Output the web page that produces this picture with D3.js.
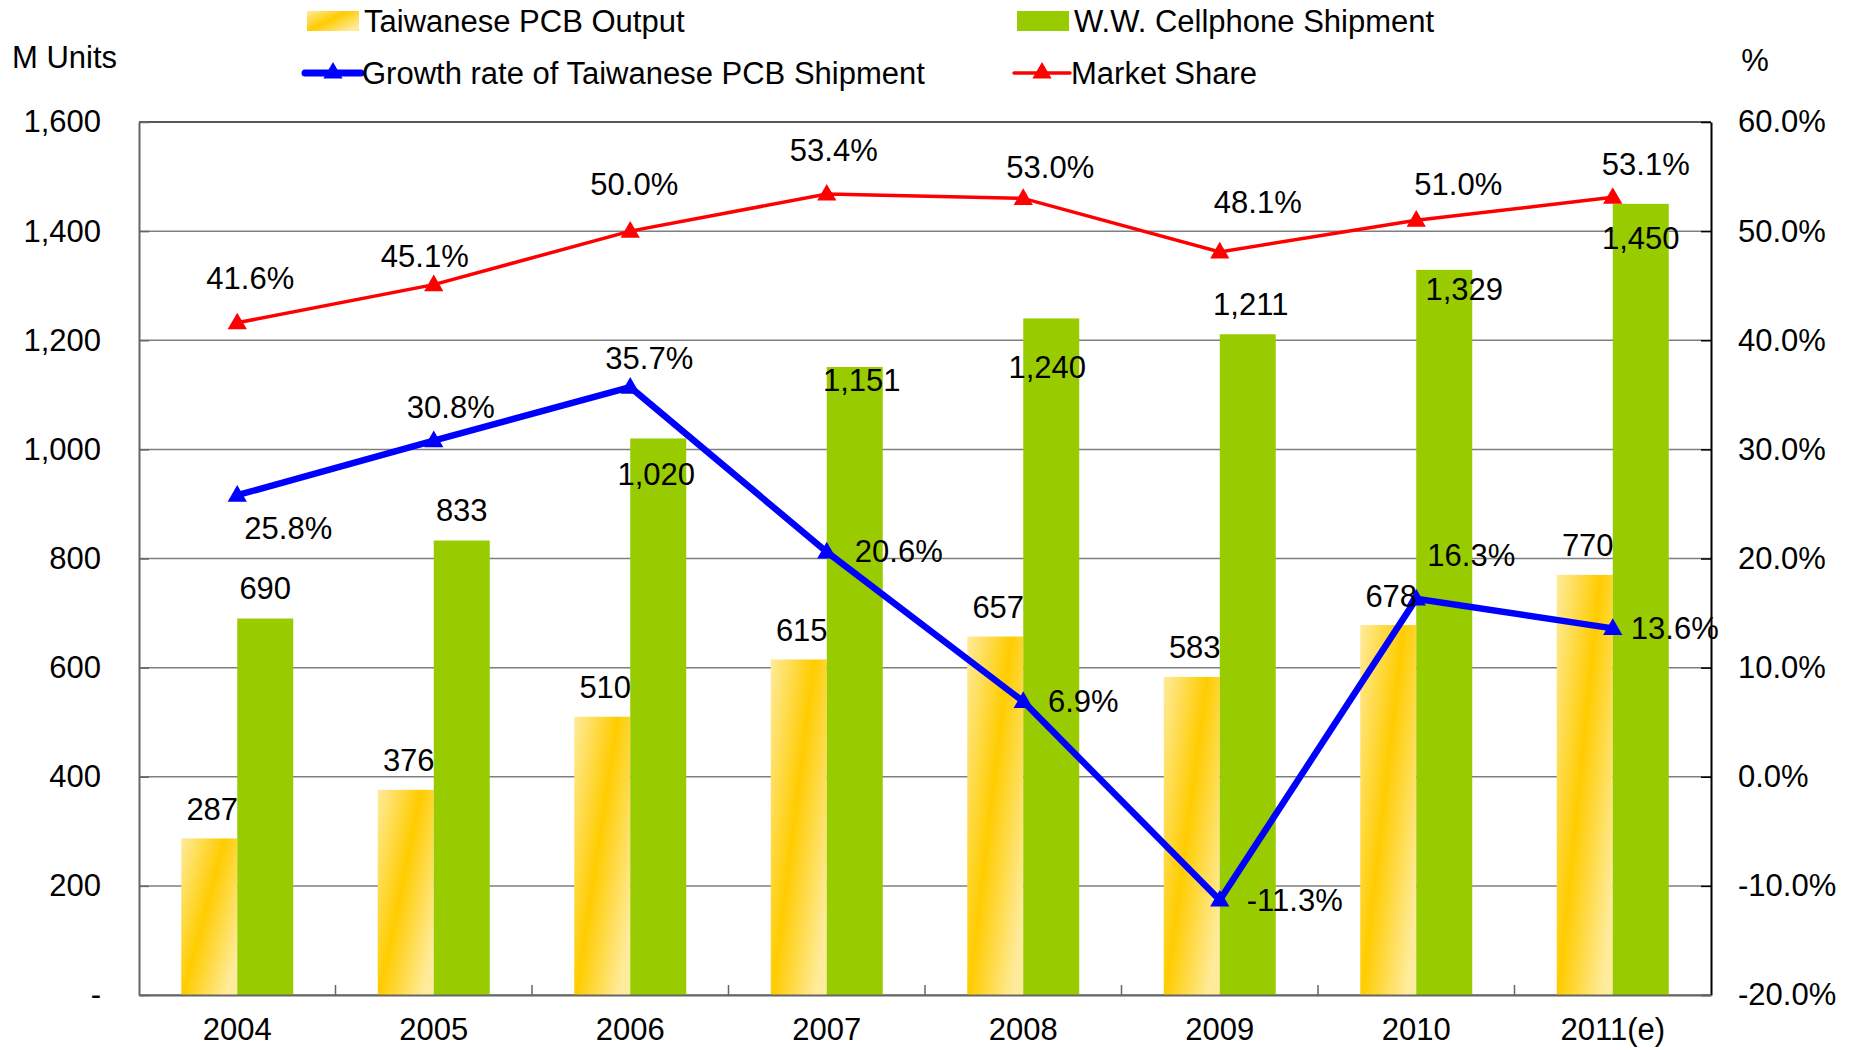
<!DOCTYPE html>
<html>
<head>
<meta charset="utf-8">
<script src="https://cdn.jsdelivr.net/npm/d3@7"></script>
<style>
  body { margin: 0; background: #fff; }
  text { font-family: "Liberation Sans", Arial, sans-serif; fill: #000; }
</style>
</head>
<body>
<div id="chart"></div>
<script>
// data
const years = ['2004', '2005', '2006', '2007', '2008', '2009', '2010', '2011(e)']
const pcbOutput = [287, 376, 510, 615, 657, 583, 678, 770]
const cellShipment = [690, 833, 1020, 1151, 1240, 1211, 1329, 1450]
const growthRate = [25.8, 30.8, 35.7, 20.6, 6.9, -11.3, 16.3, 13.6]
const marketShare = [41.6, 45.1, 50.0, 53.4, 53.0, 48.1, 51.0, 53.1]
const leftTicks = [0, 200, 400, 600, 800, 1000, 1200, 1400, 1600]
const rightTicks = [-20, -10, 0, 10, 20, 30, 40, 50, 60]

// label nudges (px), as they sit in the original
const cellLabelDx = [0, 0, -2, 7, -4, 3, 20, 0]
const cellLabelDy = [-30, -30, 36, 14, 49, -30, 20, 35]
const growthDx = [51, 17, 19, 72, 60, 75, 55, 62]
const growthDy = [33, -33, -29, 0, 0, 0, -43, 0]
const shareDx = [13, -9, 4, 7, 27, 38, 42, 33]
const shareDy = [-44, -28, -47, -44, -31, -49, -36, -33]

const W = 1854, H = 1050
const margin = { top: 122, right: 143, bottom: 55, left: 139 }
const width = W - margin.left - margin.right
const height = H - margin.top - margin.bottom
const fontSize = 31

const svg = d3.select('#chart').append('svg')
  .attr('width', W)
  .attr('height', H)

const defs = svg.append('defs')
const grad = defs.append('linearGradient')
  .attr('id', 'gold')
  .attr('x1', 0).attr('y1', 0).attr('x2', 1).attr('y2', 0.75)
grad.append('stop').attr('offset', '0%').attr('stop-color', '#ffeb9c')
grad.append('stop').attr('offset', '50%').attr('stop-color', '#ffcc00')
grad.append('stop').attr('offset', '100%').attr('stop-color', '#ffeb9c')

const x = d3.scaleBand().domain(years).range([0, width])
const x1 = d3.scaleBand().domain(['pcb', 'cell'])
  .range([x.bandwidth() * 0.215, x.bandwidth() * 0.785])
const yL = d3.scaleLinear().domain([0, 1600]).range([height, 0])
const yR = d3.scaleLinear().domain([-20, 60]).range([height, 0])

const g = svg.append('g')
  .attr('transform', 'translate(' + margin.left + ',' + margin.top + ')')

// gridlines
g.append('g')
  .selectAll('line')
  .data(leftTicks)
  .join('line')
    .attr('x1', 0).attr('x2', width)
    .attr('y1', d => yL(d)).attr('y2', d => yL(d))
    .attr('stroke', d => d == 1600 ? '#222' : '#7f7f7f')
    .attr('stroke-width', 1.5)

// bars
const groups = g.append('g')
  .selectAll('g')
  .data(years)
  .join('g')
    .attr('transform', d => 'translate(' + x(d) + ',0)')

groups.append('rect')
  .attr('x', x1('pcb'))
  .attr('width', x1.bandwidth())
  .attr('y', (d, i) => yL(pcbOutput[i]))
  .attr('height', (d, i) => height - yL(pcbOutput[i]))
  .attr('fill', 'url(#gold)')

groups.append('rect')
  .attr('x', x1('cell'))
  .attr('width', x1.bandwidth())
  .attr('y', (d, i) => yL(cellShipment[i]))
  .attr('height', (d, i) => height - yL(cellShipment[i]))
  .attr('fill', '#99cc00')

// axes
const leftAxis = d3.axisLeft(yL).tickValues(leftTicks)
  .tickSizeInner(-10).tickSizeOuter(0).tickPadding(38)
  .tickFormat(d => d == 0 ? '-' : d3.format(',')(d))
g.append('g').call(leftAxis)
  .call(a => a.select('.domain').attr('stroke', '#666').attr('stroke-width', 2))
  .call(a => a.selectAll('.tick line').attr('stroke', '#666').attr('stroke-width', 1.5))
  .call(a => a.selectAll('text').style('font-size', fontSize + 'px')
    .attr('font-family', null).attr('fill', '#000'))

const rightAxis = d3.axisRight(yR).tickValues(rightTicks)
  .tickSizeInner(-10).tickSizeOuter(0).tickPadding(27)
  .tickFormat(d => d.toFixed(1) + '%')
g.append('g')
  .attr('transform', 'translate(' + width + ',0)')
  .call(rightAxis)
  .call(a => a.select('.domain').attr('stroke', '#000').attr('stroke-width', 2))
  .call(a => a.selectAll('.tick line').attr('stroke', '#000').attr('stroke-width', 1.5))
  .call(a => a.selectAll('text').style('font-size', fontSize + 'px')
    .attr('font-family', null).attr('fill', '#000'))

const xAxis = d3.axisBottom(x).tickSize(0).tickPadding(23)
g.append('g')
  .attr('transform', 'translate(0,' + height + ')')
  .call(xAxis)
  .call(a => a.select('.domain').attr('stroke', '#666').attr('stroke-width', 2))
  .call(a => a.selectAll('text').style('font-size', fontSize + 'px')
    .attr('font-family', null).attr('fill', '#000'))

// category separators ticking up from the base
g.append('g')
  .selectAll('line')
  .data(years.slice(1))
  .join('line')
    .attr('x1', d => x(d)).attr('x2', d => x(d))
    .attr('y1', height).attr('y2', height - 10)
    .attr('stroke', '#666').attr('stroke-width', 1.5)

// lines
const cx = (d, i) => x(years[i]) + x.bandwidth() / 2
const tri = d3.symbol().type(d3.symbolTriangle).size(160)

function drawLine(values, scale, color, w) {
  const line = d3.line().x(cx).y(d => scale(d))
  g.append('path')
    .datum(values)
    .attr('d', line)
    .attr('fill', 'none')
    .attr('stroke', color)
    .attr('stroke-width', w)
    .attr('stroke-linejoin', 'miter')
  g.append('g')
    .selectAll('path')
    .data(values)
    .join('path')
      .attr('d', tri)
      .attr('transform', (d, i) => 'translate(' + cx(d, i) + ',' + (scale(d) + 1) + ')')
      .attr('fill', color)
}
drawLine(marketShare, yR, '#ff0000', 3.5)
drawLine(growthRate, yR, '#0000ff', 6.5)

// data labels
const labels = g.append('g')
  .style('font-size', fontSize + 'px')
  .attr('text-anchor', 'middle')
  .attr('dominant-baseline', 'central')

labels.selectAll('.lPcb')
  .data(pcbOutput)
  .join('text')
    .attr('class', 'lPcb')
    .attr('x', (d, i) => x(years[i]) + x1('pcb') + x1.bandwidth() / 2 + 3)
    .attr('y', d => yL(d) - 29)
    .text(d => d3.format(',')(d))

labels.selectAll('.lCell')
  .data(cellShipment)
  .join('text')
    .attr('class', 'lCell')
    .attr('x', (d, i) => x(years[i]) + x1('cell') + x1.bandwidth() / 2 + cellLabelDx[i])
    .attr('y', (d, i) => yL(d) + cellLabelDy[i])
    .text(d => d3.format(',')(d))

labels.selectAll('.lGrowth')
  .data(growthRate)
  .join('text')
    .attr('class', 'lGrowth')
    .attr('x', (d, i) => cx(d, i) + growthDx[i])
    .attr('y', (d, i) => yR(d) + growthDy[i])
    .text(d => d.toFixed(1) + '%')

labels.selectAll('.lShare')
  .data(marketShare)
  .join('text')
    .attr('class', 'lShare')
    .attr('x', (d, i) => cx(d, i) + shareDx[i])
    .attr('y', (d, i) => yR(d) + shareDy[i])
    .text(d => d.toFixed(1) + '%')

// axis titles
svg.append('text')
  .attr('x', 12).attr('y', 57)
  .attr('dominant-baseline', 'central')
  .style('font-size', fontSize + 'px')
  .text('M Units')
svg.append('text')
  .attr('x', 1755).attr('y', 60)
  .attr('text-anchor', 'middle')
  .attr('dominant-baseline', 'central')
  .style('font-size', fontSize + 'px')
  .text('%')

// legend
const legendItems = [
  { name: 'Taiwanese PCB Output', kind: 'box', fill: 'url(#gold)', x: 307, y: 21 },
  { name: 'W.W. Cellphone Shipment', kind: 'box', fill: '#99cc00', x: 1017, y: 21 },
  { name: 'Growth rate of Taiwanese PCB Shipment', kind: 'line', fill: '#0000ff', x: 305, y: 73 },
  { name: 'Market Share', kind: 'line', fill: '#ff0000', x: 1014, y: 73 }
]
const legend = svg.append('g')
  .selectAll('g')
  .data(legendItems)
  .join('g')
    .attr('transform', d => 'translate(' + d.x + ',' + d.y + ')')

legend.filter(d => d.kind == 'box').append('rect')
  .attr('x', 0).attr('y', -10).attr('width', 52).attr('height', 20)
  .attr('fill', d => d.fill)
legend.filter(d => d.kind == 'line').append('line')
  .attr('x1', 0).attr('x2', 56).attr('y1', 0).attr('y2', 0)
  .attr('stroke', d => d.fill)
  .attr('stroke-width', d => d.fill == '#0000ff' ? 7 : 3.5)
  .attr('stroke-linecap', 'round')
legend.filter(d => d.kind == 'line').append('path')
  .attr('d', tri)
  .attr('transform', 'translate(28,0)')
  .attr('fill', d => d.fill)
legend.append('text')
  .attr('x', 57)
  .attr('dominant-baseline', 'central')
  .style('font-size', fontSize + 'px')
  .text(d => d.name)
</script>
</body>
</html>
